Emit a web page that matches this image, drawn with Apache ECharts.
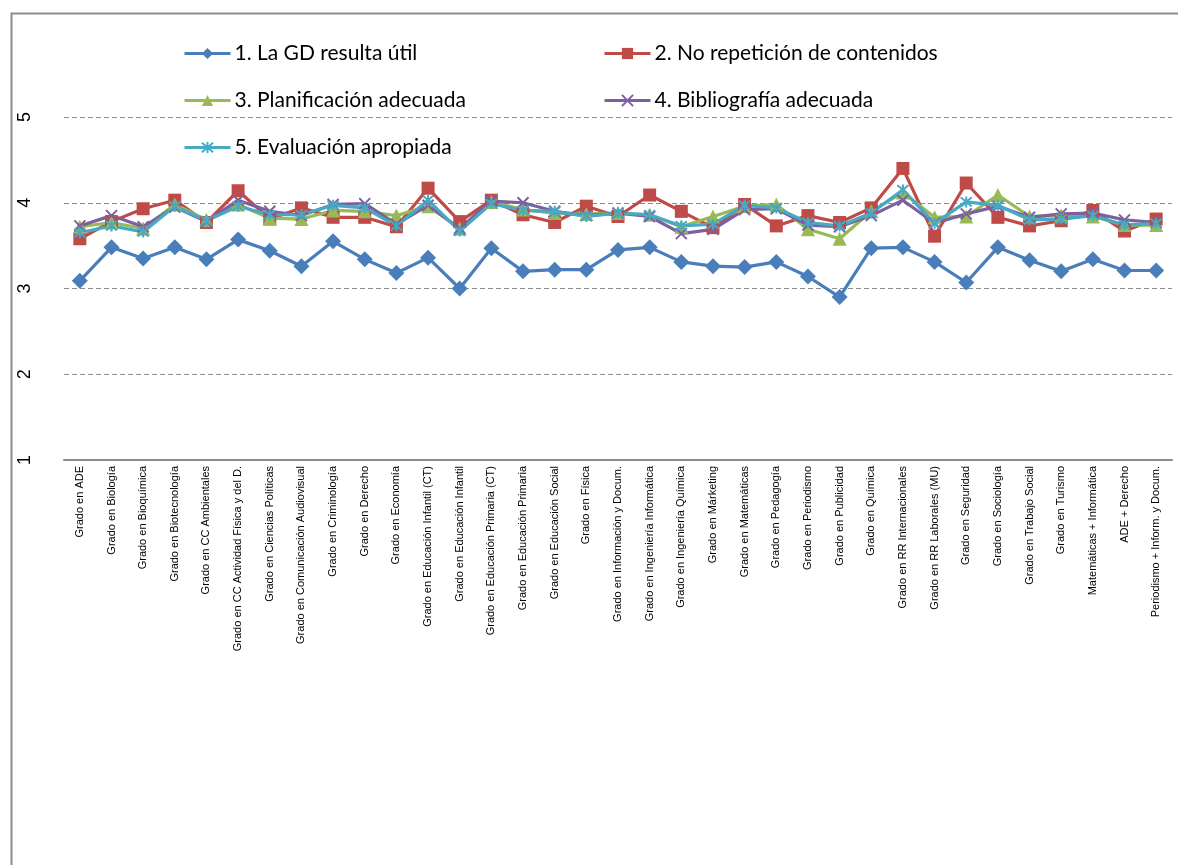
<!DOCTYPE html>
<html>
<head>
<meta charset="utf-8">
<script src="https://cdn.jsdelivr.net/npm/echarts@6/dist/echarts.min.js"></script>
<style>
html,body{margin:0;padding:0;background:#fff;}
#chart{width:1178px;height:865px;}
</style>
</head>
<body>
<div id="chart"></div>
<script>
var categories = [
  "Grado en ADE","Grado en Biología","Grado en Bioquímica","Grado en Biotecnología",
  "Grado en CC Ambientales","Grado en CC Actividad Física y del D.","Grado en Ciencias Políticas",
  "Grado en Comunicación Audiovisual","Grado en Criminología","Grado en Derecho","Grado en Economía",
  "Grado en Educación Infantil (CT)","Grado en Educación Infantil","Grado en Educación Primaria (CT)",
  "Grado en Educación Primaria","Grado en Educación Social","Grado en Física",
  "Grado en Información y Docum.","Grado en Ingeniería Informática","Grado en Ingeniería Química",
  "Grado en Márketing","Grado en Matemáticas","Grado en Pedagogía","Grado en Periodismo",
  "Grado en Publicidad","Grado en Química","Grado en RR Internacionales","Grado en RR Laborales (MU)",
  "Grado en Seguridad","Grado en Sociología","Grado en Trabajo Social","Grado en Turismo",
  "Matemáticas + Informática","ADE + Derecho","Periodismo + Inform. y Docum."
];
var seriesNames = [
  "1. La GD resulta útil","2. No repetición de contenidos","3. Planificación adecuada",
  "4. Bibliografía adecuada","5. Evaluación apropiada"
];
var util = [3.09,3.48,3.35,3.48,3.34,3.57,3.44,3.26,3.55,3.34,3.18,3.36,3.00,3.47,3.20,3.22,3.22,3.45,3.48,3.31,3.26,3.25,3.31,3.14,2.90,3.47,3.48,3.31,3.07,3.48,3.33,3.20,3.34,3.21,3.21];
var noRepeticion = [3.58,3.78,3.93,4.03,3.77,4.14,3.81,3.94,3.83,3.83,3.72,4.17,3.78,4.03,3.86,3.77,3.96,3.84,4.09,3.90,3.71,3.98,3.73,3.85,3.77,3.94,4.40,3.61,4.23,3.83,3.73,3.79,3.91,3.67,3.81];
var planificacion = [3.72,3.77,3.70,3.98,3.80,3.98,3.82,3.81,3.91,3.90,3.85,3.96,3.70,4.01,3.92,3.88,3.87,3.88,3.86,3.72,3.84,3.96,3.98,3.69,3.58,3.90,4.12,3.83,3.84,4.09,3.84,3.85,3.84,3.74,3.74];
var bibliografia = [3.73,3.85,3.72,3.95,3.78,4.03,3.90,3.85,3.98,3.99,3.75,3.97,3.70,4.02,4.00,3.90,3.85,3.88,3.84,3.64,3.69,3.92,3.93,3.74,3.72,3.85,4.03,3.76,3.87,3.96,3.83,3.87,3.88,3.80,3.77];
var evaluacion = [3.65,3.73,3.66,3.96,3.79,3.96,3.86,3.86,3.97,3.94,3.73,4.03,3.67,3.99,3.91,3.90,3.84,3.88,3.86,3.73,3.75,3.97,3.94,3.77,3.73,3.88,4.15,3.76,4.01,3.97,3.80,3.81,3.85,3.74,3.76];
var yTicks = [1,2,3,4,5];

var colors = ['#4A7EBB','#BE4B48','#98B954','#7D60A0','#46AAC5'];
var xSym = 'path://M0,0L10,10M10,0L0,10';
var starSym = 'path://M0,0L10,10M10,0L0,10M5,-1L5,11';

function mk(name, data, color, symbol, size, stroke) {
  return {
    name: name, type: 'line', data: data,
    symbol: symbol, symbolSize: size, showSymbol: true,
    lineStyle: {color: color, width: 3.2},
    itemStyle: stroke ? {color: color, borderColor: color, borderWidth: 2} : {color: color},
    emphasis: {disabled: true},
    animation: false
  };
}

var chart = echarts.init(document.getElementById('chart'), null, {renderer: 'canvas'});
var legendText = {fontFamily: 'Lato', fontSize: 21, color: '#000', padding: [0, 0, 0, -1]};
var legendCommon = {orient: 'vertical', top: 43, padding: 0, itemWidth: 46, itemHeight: 14,
  itemGap: 26, textStyle: legendText, lineStyle: {width: 3}};
chart.setOption({
  backgroundColor: '#fff',
  animation: false,
  graphic: [{
    type: 'rect', left: 9, top: 11,
    shape: {width: 1250, height: 950},
    style: {fill: 'none', stroke: '#8c8c8c', lineWidth: 2},
    z: -1
  }],
  legend: [
    Object.assign({data: [seriesNames[0], seriesNames[2], seriesNames[4]], left: 183}, legendCommon),
    Object.assign({data: [seriesNames[1], seriesNames[3]], left: 603}, legendCommon)
  ],
  grid: {left: 64, right: 6, top: 117, bottom: 405, containLabel: false},
  xAxis: {
    type: 'category', data: categories, boundaryGap: true,
    axisLine: {show: true, lineStyle: {color: '#8c8c8c', width: 2}},
    axisTick: {show: false},
    axisLabel: {interval: 0, rotate: 90, fontFamily: 'Liberation Sans', fontSize: 11, color: '#000', margin: 6}
  },
  yAxis: {
    type: 'value', min: 1, max: 5, interval: 1,
    axisLine: {show: false}, axisTick: {show: false},
    axisLabel: {rotate: 90, fontFamily: 'Liberation Sans', fontSize: 18, color: '#000', margin: 30,
      formatter: function(v){ return yTicks.indexOf(v) >= 0 ? String(v) : ''; }},
    splitLine: {show: true, lineStyle: {color: '#8c8c8c', type: [5, 3], width: 1}}
  },
  series: [
    mk(seriesNames[0], util, colors[0], 'diamond', 16, false),
    mk(seriesNames[1], noRepeticion, colors[1], 'rect', 13, false),
    mk(seriesNames[2], planificacion, colors[2], 'triangle', 14, false),
    mk(seriesNames[3], bibliografia, colors[3], xSym, 11, true),
    mk(seriesNames[4], evaluacion, colors[4], starSym, 11, true)
  ]
});
</script>
</body>
</html>
